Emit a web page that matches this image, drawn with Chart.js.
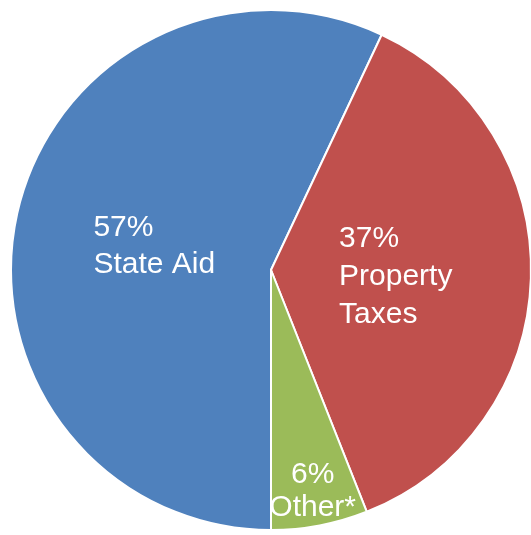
<!DOCTYPE html>
<html>
<head>
<meta charset="utf-8">
<script src="https://cdn.jsdelivr.net/npm/chart.js@4"></script>
<style>
html,body{margin:0;padding:0;overflow:hidden;background:#fff;}
#wrap{width:542px;height:540px;}
</style>
</head>
<body>
<div id="wrap"><canvas id="c" width="542" height="540"></canvas></div>
<script>
const categories = ["State Aid", "Property Taxes", "Other*"];
const values = [57, 37, 6];
const labelLines = [["State Aid"], ["Property", "Taxes"], ["Other*"]];
const colors = ["#4F81BD", "#C0504D", "#9BBB59"];

const sliceLabels = {
  id: 'sliceLabels',
  afterDatasetsDraw(chart, args, opts) {
    const ctx = chart.ctx;
    const meta = chart.getDatasetMeta(0);
    const total = values.reduce((a, b) => a + b, 0);
    const fs = opts.fontSize;
    ctx.save();
    ctx.font = fs + 'px "Liberation Sans", Arial, sans-serif';
    ctx.fillStyle = '#ffffff';
    ctx.textBaseline = 'alphabetic';
    meta.data.forEach((arc, i) => {
      const lh = opts.lineHeights[i];
      const p = arc.getProps(['x', 'y', 'startAngle', 'endAngle', 'outerRadius'], true);
      const mid = (p.startAngle + p.endAngle) / 2;
      const d = p.outerRadius * opts.fractions[i];
      const ax = p.x + Math.cos(mid) * d;
      const ay = p.y + Math.sin(mid) * d;
      const lines = [Math.round(values[i] / total * 100) + '%'].concat(labelLines[i]);
      const cap = fs * 0.716;
      const blockH = (lines.length - 1) * lh + cap;
      const firstBase = ay - blockH / 2 + cap;
      const maxW = Math.max(...lines.map(l => ctx.measureText(l).width));
      lines.forEach((l, j) => {
        const y = firstBase + j * lh;
        if (opts.align[i] === 'left') {
          ctx.textAlign = 'left';
          ctx.fillText(l, ax - maxW / 2, y);
        } else {
          ctx.textAlign = 'center';
          ctx.fillText(l, ax, y);
        }
      });
    });
    ctx.restore();
  }
};

new Chart(document.getElementById('c'), {
  type: 'pie',
  data: {
    labels: categories,
    datasets: [{
      data: values,
      backgroundColor: colors,
      borderColor: '#ffffff',
      borderWidth: 2
    }]
  },
  options: {
    responsive: false,
    animation: false,
    rotation: 180,
    layout: { padding: { left: 10, right: 10, top: 9, bottom: 9 } },
    plugins: {
      legend: { display: false },
      tooltip: { enabled: false },
      sliceLabels: {
        fontSize: 30,
        lineHeights: [37, 38, 33],
        fractions: [0.46, 0.48, 0.855],
        align: ['left', 'left', 'center']
      }
    }
  },
  plugins: [sliceLabels]
});
</script>
</body>
</html>
